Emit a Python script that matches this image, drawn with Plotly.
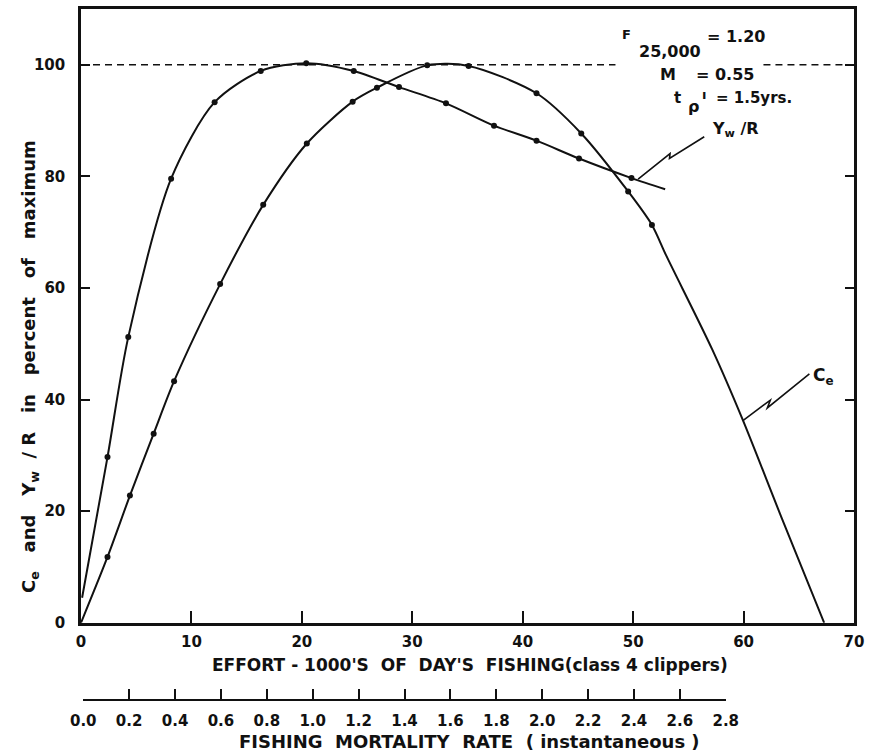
import plotly.graph_objects as go

# ---------------- data ----------------
# Yw/R curve: marked points
ywr_x = [2.4, 4.28, 8.16, 12.1, 16.28, 20.4, 24.7, 28.8, 33.05, 37.4, 41.25, 45.1, 49.85]
ywr_y = [29.7, 51.2, 79.6, 93.3, 98.9, 100.3, 98.9, 96.0, 93.1, 89.1, 86.4, 83.2, 79.7]
# Yw/R curve: unmarked line ends
ywr_start = (0.1, 4.5)
ywr_end = (52.9, 77.7)

# Ce curve: marked points
ce_x = [2.4, 4.43, 6.58, 8.43, 12.6, 16.5, 20.45, 24.6, 26.8, 31.35, 35.1, 41.25, 45.3, 49.55, 51.7]
ce_y = [11.8, 22.8, 33.9, 43.3, 60.7, 74.9, 85.9, 93.4, 95.9, 99.9, 99.8, 94.9, 87.7, 77.3, 71.3]
# Ce curve: unmarked continuation down to zero
ce_tail_x = [53.0, 57.16, 59.9, 63.43, 67.3]
ce_tail_y = [65.8, 49.0, 36.5, 18.9, 0.0]

# axis ticks
effort_ticks = [0, 10, 20, 30, 40, 50, 60, 70]
effort_labels = ["0", "10", "20", "30", "40", "50", "60", "70"]
y_ticks = [0, 20, 40, 60, 80, 100]
y_labels = ["0", "20", "40", "60", "80", "100"]
f_ticks = [0.0, 0.2, 0.4, 0.6, 0.8, 1.0, 1.2, 1.4, 1.6, 1.8, 2.0, 2.2, 2.4, 2.6, 2.8]
f_labels = ["0.0", "0.2", "0.4", "0.6", "0.8", "1.0", "1.2", "1.4", "1.6", "1.8",
            "2.0", "2.2", "2.4", "2.6", "2.8"]

# ---------------- figure ----------------
FONT = "DejaVu Sans"
BLACK = "#111111"

fig = go.Figure()

# Yw/R line
fig.add_trace(go.Scatter(
    x=[ywr_start[0]] + ywr_x + [ywr_end[0]],
    y=[ywr_start[1]] + ywr_y + [ywr_end[1]],
    mode="lines", line=dict(color=BLACK, width=2, shape="spline", smoothing=0.8),
    hoverinfo="skip", showlegend=False))
fig.add_trace(go.Scatter(
    x=ywr_x, y=ywr_y, mode="markers",
    marker=dict(color=BLACK, size=6), showlegend=False, name="Yw/R"))

# Ce line
fig.add_trace(go.Scatter(
    x=[0] + ce_x + ce_tail_x,
    y=[0] + ce_y + ce_tail_y,
    mode="lines", line=dict(color=BLACK, width=2, shape="spline", smoothing=0.8),
    hoverinfo="skip", showlegend=False))
fig.add_trace(go.Scatter(
    x=ce_x, y=ce_y, mode="markers",
    marker=dict(color=BLACK, size=6), showlegend=False, name="Ce"))

# dummy trace for the fishing-mortality scale
fig.add_trace(go.Scatter(
    x=f_ticks, y=[None] * len(f_ticks), xaxis="x2", yaxis="y3",
    mode="markers", marker=dict(opacity=0), hoverinfo="skip", showlegend=False))

# dashed 100% line (broken where the parameter text sits)
for x0, x1 in [(0, 48.4), (61.8, 70)]:
    fig.add_shape(type="line", x0=x0, x1=x1, y0=100, y1=100, xref="x", yref="y",
                  line=dict(color=BLACK, width=1.5, dash="7px,5px"))

# zig-zag leaders
fig.add_shape(type="path", xref="x", yref="y",
              path="M 50.45 79.5 L 53.34 84.1 L 53.29 83.2 L 56.44 87.1",
              line=dict(color=BLACK, width=1.6))
fig.add_shape(type="path", xref="x", yref="y",
              path="M 59.91 36.2 L 62.42 39.9 L 62.15 38.5 L 65.96 44.6",
              line=dict(color=BLACK, width=1.6))


def ann(text, x, y, size=14, xanchor="center", yanchor="middle", xref="x", yref="y", angle=0):
    fig.add_annotation(text=text, x=x, y=y, xref=xref, yref=yref, showarrow=False,
                       xanchor=xanchor, yanchor=yanchor, textangle=angle,
                       font=dict(family=FONT, size=size, color=BLACK, weight="bold"))

# parameters box
ann("F", 49.4, 105.4, size=13)
ann("25,000", 53.3, 102.4, size=16)
ann("= 1.20", 59.3, 105.1, size=16)
ann("M", 53.2, 98.3, size=16)
ann("= 0.55", 58.3, 98.3, size=16)
ann("t", 54.0, 94.0, size=15)
ann("ρ", 55.5, 92.6, size=16)
ann("ı", 56.4, 94.6, size=13)
ann("= 1.5yrs.", 60.9, 94.0, size=15)

# curve labels
ann("Y<sub>w</sub> /R", 57.0, 88.4, size=16, xanchor="left")
ann("C<sub>e</sub>", 66.1, 44.2, size=17, xanchor="left")

# axis titles (paper coordinates)
ann("EFFORT - 1000'S  OF  DAY'S  FISHING(class 4 clippers)", 0.5026, 0.049, size=17,
    xref="paper", yref="paper")
ann("FISHING  MORTALITY  RATE  ( instantaneous )", 0.503, -0.062, size=18,
    xref="paper", yref="paper")
ann("C<sub>e</sub>   and   Y<sub>w</sub>  / R   in   percent   of   maximum", -0.0652, 0.482,
    size=18, xref="paper", yref="paper", angle=-90)

tickfont = dict(family=FONT, size=15, color=BLACK, weight="bold")
Y_DOM0 = 0.1104

fig.update_layout(
    width=873, height=755,
    margin=dict(l=81, r=10, t=6, b=56),
    paper_bgcolor="white", plot_bgcolor="white",
    showlegend=False,
    xaxis=dict(domain=[0, 1], range=[0, 70], anchor="y",
               showline=True, linewidth=2.5, linecolor=BLACK, mirror=True,
               ticks="inside", ticklen=12, tickwidth=1.5, tickcolor=BLACK,
               tickvals=effort_ticks, ticktext=effort_labels, tickfont=tickfont,
               ticklabelstandoff=3,
               showgrid=False, zeroline=False),
    yaxis=dict(domain=[Y_DOM0, 1], range=[0, 110], anchor="x",
               showline=True, linewidth=2.5, linecolor=BLACK, mirror="ticks",
               ticks="inside", ticklen=9, tickwidth=1.5, tickcolor=BLACK,
               tickvals=y_ticks, ticktext=y_labels, tickfont=tickfont,
               ticklabelstandoff=10,
               showgrid=False, zeroline=False),
    xaxis2=dict(domain=[0.0029, 0.8341], range=[0, 2.8], anchor="y3",
                showline=True, linewidth=2, linecolor=BLACK,
                ticks="inside", ticklen=10, tickwidth=1.5, tickcolor=BLACK,
                tickvals=f_ticks, ticktext=f_labels, tickfont=tickfont,
                ticklabelstandoff=7,
                showgrid=False, zeroline=False),
    yaxis3=dict(domain=[0, Y_DOM0], range=[0, 1], anchor="x2", visible=False),
)

fig.write_html("out.html")
